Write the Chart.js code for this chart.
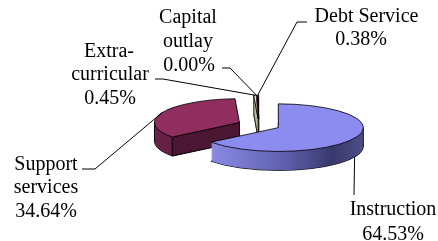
<!DOCTYPE html>
<html><head><meta charset="utf-8">
<script src="https://cdn.jsdelivr.net/npm/chart.js@4.4.1/dist/chart.umd.min.js"></script>
<style>html,body{margin:0;padding:0;background:#fff;overflow:hidden}</style>
</head><body>
<canvas id="c" width="438" height="241"></canvas>
<script>
// ---- data ----
const categories = ['Instruction', 'Support services', 'Extra-curricular', 'Capital outlay', 'Debt Service'];
const shares = [64.53, 34.64, 0.45, 0.00, 0.38];
const shareLabels = ['64.53%', '34.64%', '0.45%', '0.00%', '0.38%'];
const labelLines = [['Instruction'], ['Support', 'services'], ['Extra-', 'curricular'], ['Capital', 'outlay'], ['Debt Service']];

// ---- style ----
const topColors = ['#8c8cf0', '#912e60', '#ffffcc', '#ccffff', '#660066'];
const faceColors = ['#3c3c72', '#4a1632', '#b8b890', '#90b0b0', '#3a0a3a'];
const E = 21.5, K = 0.28, DEPTH = 19;

function geom(a) {
  const p = a.getProps(['x', 'y', 'startAngle', 'endAngle', 'outerRadius'], true);
  const mid = (p.startAngle + p.endAngle) / 2;
  return {cx: p.x + E * Math.cos(mid), cy: p.y + E * Math.sin(mid) * K,
          r: p.outerRadius, s: p.startAngle, e: p.endAngle, mid};
}
function sector(ctx, g, dz) {
  ctx.beginPath();
  ctx.moveTo(g.cx, g.cy + dz);
  ctx.ellipse(g.cx, g.cy + dz, g.r, g.r * K, 0, g.s, g.e, false);
  ctx.closePath();
}
function rimPt(g, t, dz) { return [g.cx + g.r * Math.cos(t), g.cy + g.r * K * Math.sin(t) + (dz || 0)]; }
function inRange(g, t) {
  for (const k of [-2, -1, 0, 1, 2]) { const u = t + k * 2 * Math.PI; if (u >= g.s && u <= g.e) return true; }
  return false;
}
function sideFill(ctx, i, g) {
  const gr = ctx.createLinearGradient(g.cx - g.r, 0, g.cx + g.r, 0);
  if (i === 0) {
    gr.addColorStop(0, '#9090ea'); gr.addColorStop(0.11, '#8a8ae4');
    gr.addColorStop(0.55, '#5e5eac'); gr.addColorStop(0.82, '#38386c'); gr.addColorStop(1, '#4e4e88');
  } else if (i === 1) {
    gr.addColorStop(0, '#6a2248'); gr.addColorStop(0.3, '#561a3a'); gr.addColorStop(1, '#4a1632');
  } else {
    gr.addColorStop(0, faceColors[i]); gr.addColorStop(1, faceColors[i]);
  }
  return gr;
}

const pie3d = {
  id: 'pie3d',
  beforeDatasetsDraw(chart) {
    const ctx = chart.ctx;
    const arcs = chart.getDatasetMeta(0).data;
    for (const i of [4, 3, 2, 1, 0]) {
      const g = geom(arcs[i]);
      if (g.e - g.s < 1e-6) continue;
      ctx.save();
      ctx.lineWidth = 0.8; ctx.strokeStyle = '#000'; ctx.lineJoin = 'round';
      const side = sideFill(ctx, i, g);
      ctx.fillStyle = side;
      sector(ctx, g, DEPTH); ctx.fill(); ctx.stroke();
      for (let dz = DEPTH - 0.5; dz > 0; dz -= 0.5) { sector(ctx, g, dz); ctx.fill(); }
      // visible radial faces
      const faces = [];
      if (Math.cos(g.s) < 0) faces.push(g.s);
      if (Math.cos(g.e) > 0) faces.push(g.e);
      for (const t of faces) {
        const [x, y] = rimPt(g, t, 0);
        ctx.beginPath();
        ctx.moveTo(g.cx, g.cy); ctx.lineTo(x, y); ctx.lineTo(x, y + DEPTH); ctx.lineTo(g.cx, g.cy + DEPTH); ctx.closePath();
        ctx.fillStyle = faceColors[i]; ctx.fill(); ctx.stroke();
      }
      // silhouette verticals
      for (const t of [0, Math.PI]) {
        if (!inRange(g, t)) continue;
        const [x, y] = rimPt(g, t, 0);
        ctx.beginPath(); ctx.moveTo(x, y); ctx.lineTo(x, y + DEPTH); ctx.stroke();
      }
      sector(ctx, g, 0); ctx.fillStyle = topColors[i]; ctx.fill(); ctx.stroke();
      ctx.restore();
    }
    return false;
  },
  afterDraw(chart) {
    const ctx = chart.ctx;
    const arcs = chart.getDatasetMeta(0).data;
    // label layout: [text centre x per line], baselines, leader elbow + end
    const layout = [
      {xs: [393, 393], ys: [215, 240], lead: [[354, 195]], depth: true},
      {xs: [46, 46, 46], ys: [169.5, 193, 217], lead: [[95, 169], [82, 169]]},
      {xs: [109, 110, 110], ys: [56.5, 80, 103.5], lead: [[163, 79], [155, 79]]},
      {xs: [188, 188, 189], ys: [23, 47, 71], lead: [[230, 68], [222, 68]]},
      {xs: [366.5, 361], ys: [22, 45], lead: [[297, 22], [307, 22]]}
    ];
    ctx.save();
    ctx.strokeStyle = '#000'; ctx.lineWidth = 1;
    arcs.forEach((a, i) => {
      const g = geom(a);
      const L = layout[i];
      const [ax, ay] = rimPt(g, g.mid, L.depth ? DEPTH : 0);
      ctx.beginPath();
      ctx.moveTo(ax, ay);
      L.lead.forEach(p => ctx.lineTo(p[0], p[1]));
      ctx.stroke();
    });
    ctx.fillStyle = '#000';
    ctx.font = '20px "Liberation Serif", "Times New Roman", serif';
    ctx.textAlign = 'center'; ctx.textBaseline = 'alphabetic';
    categories.forEach((c, i) => {
      const L = layout[i];
      const lines = labelLines[i].concat([shareLabels[i]]);
      lines.forEach((t, j) => ctx.fillText(t, L.xs[j], L.ys[j]));
    });
    ctx.restore();
  }
};

new Chart(document.getElementById('c'), {
  type: 'pie',
  data: {
    labels: categories,
    datasets: [{data: shares, backgroundColor: topColors, borderWidth: 0}]
  },
  options: {
    responsive: false,
    animation: false,
    rotation: 0,
    layout: {padding: {left: 174, right: 94, top: 40, bottom: 31}},
    plugins: {legend: {display: false}, tooltip: {enabled: false}}
  },
  plugins: [pie3d]
});
</script>
</body></html>
